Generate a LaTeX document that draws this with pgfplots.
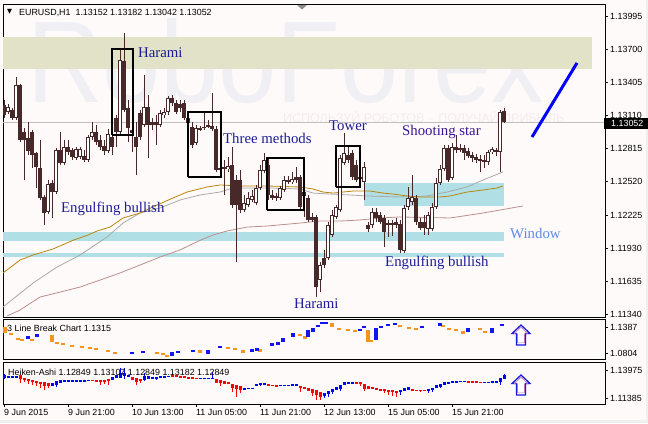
\documentclass[border=0pt]{standalone}
\usepackage{fontspec}
\usepackage{graphicx}
\usepackage{pgfplots}
\usepackage{pgfplotstable}
\pgfplotsset{compat=1.18}
\setmainfont{Liberation Serif}
\newfontfamily\ms{Liberation Sans}
\newfontfamily\dv{DejaVu Sans}
\newcommand\tf{\ms\fontsize{8.9bp}{10bp}\selectfont}
\newcommand\pf{\fontsize{14.8bp}{16bp}\selectfont}

\definecolor{bg}{HTML}{FFFAFA}
\definecolor{cndl}{HTML}{48292A}
\definecolor{khaki}{HTML}{E2E2C8}
\definecolor{pbl}{HTML}{B0E0E6}
\definecolor{gold}{HTML}{B8860B}
\definecolor{ma2}{HTML}{A9A9A9}
\definecolor{ma3}{HTML}{BC8F8F}
\definecolor{patt}{HTML}{1C1C94}
\definecolor{patt2}{HTML}{3A1592}
\definecolor{win}{HTML}{5E8BE8}
\definecolor{wm}{HTML}{EFEFF4}
\definecolor{wm2}{HTML}{F3EDEF}
\definecolor{lbo}{HTML}{F7941D}
\definecolor{lbb}{HTML}{1414F0}
\definecolor{har}{HTML}{FF0000}
\definecolor{hab}{HTML}{0000FF}
\definecolor{arr}{HTML}{1A1ADC}

% EURUSD H1 candles: index, open, high, low, close
\pgfplotstableread{
i o h l c
0 1.13204 1.13249 1.13089 1.13115
1 1.13142 1.13213 1.13124 1.13187
2 1.13160 1.13178 1.13071 1.13089
3 1.13089 1.13454 1.13071 1.13383
4 1.13383 1.13392 1.12875 1.12893
5 1.12964 1.13000 1.12536 1.12893
6 1.12910 1.13053 1.12759 1.12795
7 1.12964 1.12982 1.12643 1.12759
8 1.12777 1.12786 1.12465 1.12652
9 1.12643 1.12893 1.12358 1.12376
10 1.12385 1.12403 1.12135 1.12242
11 1.12251 1.12536 1.12233 1.12501
12 1.12509 1.12536 1.12198 1.12429
13 1.12429 1.12821 1.12411 1.12804
14 1.12804 1.12964 1.12670 1.12688
15 1.12688 1.12893 1.12670 1.12830
16 1.12830 1.12893 1.12759 1.12786
17 1.12804 1.12821 1.12714 1.12741
18 1.12732 1.12830 1.12714 1.12812
19 1.12741 1.12830 1.12723 1.12812
20 1.12750 1.12804 1.12697 1.12714
21 1.12714 1.12937 1.12697 1.12919
22 1.12919 1.13053 1.12893 1.12964
23 1.12964 1.13026 1.12848 1.12875
24 1.12893 1.12937 1.12804 1.12830
25 1.12839 1.12893 1.12759 1.12795
26 1.12795 1.12991 1.12777 1.12946
27 1.12919 1.12982 1.12759 1.12830
28 1.13089 1.13115 1.12830 1.12964
29 1.12964 1.13694 1.12946 1.13605
30 1.13597 1.13846 1.13142 1.13160
31 1.13178 1.13249 1.12875 1.13000
32 1.12982 1.13026 1.12786 1.12955
33 1.12919 1.13053 1.12581 1.12830
34 1.13133 1.13160 1.12893 1.12919
35 1.13026 1.13472 1.13008 1.13187
36 1.13187 1.13294 1.12732 1.13026
37 1.13053 1.13089 1.12982 1.13026
38 1.13053 1.13115 1.12848 1.13026
39 1.13026 1.13160 1.13008 1.13133
40 1.13115 1.13178 1.13089 1.13142
41 1.13142 1.13285 1.13115 1.13267
42 1.13267 1.13294 1.13196 1.13222
43 1.13222 1.13249 1.13124 1.13142
44 1.13213 1.13249 1.13142 1.13178
45 1.13222 1.13249 1.13071 1.13089
46 1.13089 1.13115 1.13008 1.13044
47 1.13008 1.13053 1.12821 1.12848
48 1.12866 1.13026 1.12848 1.13000
49 1.13000 1.13017 1.12973 1.12991
50 1.13000 1.13133 1.12982 1.13008
51 1.13017 1.13071 1.13000 1.13026
52 1.13017 1.13311 1.12973 1.12991
53 1.12991 1.13017 1.12608 1.12625
54 1.12643 1.12670 1.12563 1.12625
55 1.12652 1.12714 1.12403 1.12643
56 1.12634 1.12741 1.12608 1.12661
57 1.12670 1.12830 1.12287 1.12313
58 1.12536 1.12581 1.11806 1.12313
59 1.12536 1.12625 1.12242 1.12269
60 1.12269 1.12403 1.12251 1.12331
61 1.12313 1.12429 1.12296 1.12376
62 1.12358 1.12447 1.12340 1.12394
63 1.12331 1.12492 1.12313 1.12465
64 1.12465 1.12670 1.12447 1.12625
65 1.12616 1.12777 1.12599 1.12714
66 1.12670 1.12732 1.12358 1.12403
67 1.12403 1.12447 1.12358 1.12376
68 1.12394 1.12420 1.12349 1.12376
69 1.12376 1.12483 1.12358 1.12465
70 1.12447 1.12572 1.12429 1.12536
71 1.12536 1.12572 1.12501 1.12518
72 1.12518 1.12608 1.12501 1.12545
73 1.12563 1.12652 1.12509 1.12536
74 1.12563 1.12581 1.12269 1.12296
75 1.12429 1.12447 1.12207 1.12394
76 1.12376 1.12403 1.12162 1.12180
77 1.12207 1.12242 1.12162 1.12180
78 1.12207 1.12224 1.11494 1.11583
79 1.11645 1.11806 1.11538 1.11779
80 1.11841 1.11913 1.11752 1.11779
81 1.11841 1.12162 1.11823 1.12135
82 1.12046 1.12269 1.12028 1.12224
83 1.12207 1.12313 1.12189 1.12296
84 1.12269 1.12759 1.12251 1.12732
85 1.12688 1.12955 1.12670 1.12777
86 1.12759 1.12848 1.12688 1.12714
87 1.12777 1.12804 1.12536 1.12563
88 1.12670 1.12714 1.12518 1.12536
89 1.12563 1.12625 1.12518 1.12545
90 1.12518 1.12697 1.12358 1.12652
91 1.12135 1.12162 1.12073 1.12100
92 1.12135 1.12287 1.12109 1.12251
93 1.12251 1.12287 1.12162 1.12198
94 1.12224 1.12251 1.12144 1.12162
95 1.12198 1.12224 1.11939 1.12073
96 1.12153 1.12180 1.12028 1.12144
97 1.12153 1.12180 1.12037 1.12144
98 1.12162 1.12198 1.12109 1.12135
99 1.12144 1.12180 1.11886 1.11913
100 1.11904 1.12313 1.11886 1.12287
101 1.12296 1.12474 1.12269 1.12376
102 1.12340 1.12581 1.12313 1.12385
103 1.12376 1.12403 1.12135 1.12162
104 1.12162 1.12198 1.12091 1.12109
105 1.12162 1.12224 1.12046 1.12109
106 1.12100 1.12251 1.12046 1.12224
107 1.12100 1.12331 1.12082 1.12296
108 1.12296 1.12554 1.12278 1.12509
109 1.12509 1.12670 1.12492 1.12634
110 1.12634 1.12848 1.12616 1.12821
111 1.12821 1.12848 1.12518 1.12536
112 1.12554 1.12866 1.12536 1.12830
113 1.12830 1.12937 1.12777 1.12804
114 1.12821 1.12857 1.12786 1.12812
115 1.12821 1.12848 1.12714 1.12777
116 1.12795 1.12821 1.12732 1.12750
117 1.12759 1.12786 1.12697 1.12732
118 1.12741 1.12768 1.12688 1.12714
119 1.12723 1.12759 1.12608 1.12714
120 1.12714 1.12759 1.12643 1.12705
121 1.12697 1.12804 1.12670 1.12786
122 1.12786 1.12830 1.12768 1.12812
123 1.12786 1.12821 1.12750 1.12804
124 1.12786 1.13160 1.12608 1.13142
125 1.13152 1.13182 1.13042 1.13052
}\candles

% 3 line break blocks: index, top, bottom
\pgfplotstableread{
i t b
0.25 1.1387 1.1252
1.75 1.1252 1.1208
3.5 1.1140 1.1096
4.5 1.1118 1.1073
7 1.1118 1.1073
12 1.1208 1.1051
13.25 1.1051 1.1006
14.75 1.1028 1.0983
17 1.0983 1.0939
19.5 1.0961 1.0916
21.5 1.0939 1.0894
23 1.0916 1.0871
26 1.0871 1.0827
27.75 1.0827 1.0782
38.25 1.0827 1.0782
39.75 1.0804 1.0760
40.75 1.0760 1.0715
49 1.0871 1.0804
56 1.0939 1.0894
57.75 1.0916 1.0871
59.75 1.0871 1.0804
64 1.0894 1.0827
74 1.1230 1.1185
75.25 1.1185 1.1118
82 1.1477 1.1387
83.75 1.1365 1.1320
86 1.1342 1.1297
87.75 1.1320 1.1275
91 1.1320 1.1051
91.75 1.1096 1.1051
99 1.1432 1.1387
101.25 1.1387 1.1342
103 1.1365 1.1320
109.75 1.1432 1.1387
111.25 1.1365 1.1320
113 1.1342 1.1297
114.75 1.1297 1.1230
119 1.1365 1.1320
120.25 1.1297 1.1252
}\tlbo
\pgfplotstableread{
i t b
6 1.1185 1.1118
8.25 1.1230 1.1163
32 1.0827 1.0782
34.75 1.0849 1.0804
42 1.0827 1.0737
43.5 1.0849 1.0804
47.25 1.0871 1.0827
51 1.0871 1.0782
54 1.0961 1.0916
62 1.0894 1.0827
63.25 1.0916 1.0849
67 1.1028 1.0961
68.5 1.1051 1.0983
69.75 1.1140 1.1051
72.25 1.1252 1.1163
76 1.1320 1.1163
77.25 1.1365 1.1275
78.5 1.1432 1.1387
79.5 1.1499 1.1454
80.5 1.1499 1.1454
89 1.1342 1.1297
90 1.1409 1.1365
93 1.1365 1.1096
94.25 1.1409 1.1365
96 1.1454 1.1409
97.75 1.1477 1.1432
104.5 1.1409 1.1365
109 1.1477 1.1409
116 1.1365 1.1275
122 1.1365 1.1252
124.5 1.1454 1.1409
}\tlbb

% Heiken-Ashi: index, open, close, high, low
\pgfplotstableread{
i o c h l
0 1.13235 1.13513 1.13605 1.13143
1 1.13235 1.13420 1.13420 1.13235
2 1.13328 1.13420 1.13420 1.13328
3 1.13328 1.13374 1.13420 1.13328
4 1.13513 1.13143 1.13513 1.12773
5 1.13235 1.13050 1.13235 1.12865
6 1.13143 1.12958 1.13143 1.12680
7 1.13050 1.12865 1.13050 1.12588
8 1.12958 1.12773 1.12958 1.12495
9 1.12865 1.12680 1.12865 1.12310
10 1.12865 1.12495 1.12865 1.12125
11 1.12773 1.12495 1.12773 1.12310
12 1.12495 1.12773 1.12773 1.12495
13 1.12588 1.12958 1.12958 1.12403
14 1.12773 1.13050 1.13050 1.12773
15 1.12865 1.13050 1.13050 1.12865
16 1.12958 1.13050 1.13050 1.12958
17 1.12958 1.13004 1.13004 1.12958
18 1.12958 1.13004 1.13004 1.12958
19 1.12958 1.13004 1.13004 1.12958
20 1.12958 1.13050 1.13050 1.12958
21 1.13004 1.13050 1.13050 1.13004
22 1.13050 1.12985 1.13050 1.12985
23 1.13050 1.12958 1.13050 1.12958
24 1.13050 1.12958 1.13050 1.12588
25 1.13050 1.12958 1.13050 1.12680
26 1.13143 1.12958 1.13143 1.12588
27 1.13050 1.13328 1.13328 1.13050
28 1.13235 1.13513 1.13513 1.13235
29 1.13235 1.13698 1.14160 1.13235
30 1.13420 1.13698 1.14160 1.13143
31 1.13420 1.13513 1.13513 1.13420
32 1.13328 1.13050 1.13328 1.13050
33 1.13235 1.12865 1.13235 1.12588
34 1.13143 1.12958 1.13143 1.12773
35 1.13050 1.13420 1.13698 1.12958
36 1.13143 1.13420 1.13420 1.13143
37 1.13235 1.13328 1.13328 1.13235
38 1.13235 1.13328 1.13328 1.13050
39 1.13328 1.13374 1.13374 1.13328
40 1.13328 1.13374 1.13374 1.13328
41 1.13374 1.13420 1.13420 1.13374
42 1.13513 1.13328 1.13513 1.13328
43 1.13513 1.13328 1.13513 1.13328
44 1.13420 1.13328 1.13420 1.13328
45 1.13420 1.13235 1.13420 1.13235
46 1.13328 1.13235 1.13328 1.13235
47 1.13328 1.13189 1.13328 1.13189
48 1.13281 1.13189 1.13281 1.13189
49 1.13189 1.13235 1.13235 1.13189
50 1.13189 1.13235 1.13235 1.13189
51 1.13189 1.13235 1.13235 1.13189
52 1.13189 1.13235 1.13790 1.13189
53 1.13143 1.12773 1.13143 1.12773
54 1.13050 1.12773 1.13050 1.12495
55 1.12958 1.12680 1.12958 1.12680
56 1.12865 1.12680 1.12865 1.12680
57 1.12680 1.12310 1.12680 1.11940
58 1.12588 1.12218 1.12588 1.11478
59 1.12495 1.12125 1.12495 1.11848
60 1.12218 1.12310 1.12310 1.12218
61 1.12264 1.12310 1.12310 1.12264
62 1.12264 1.12310 1.12310 1.12264
63 1.12495 1.12680 1.12680 1.12495
64 1.12588 1.12773 1.12773 1.12495
65 1.12588 1.12773 1.12773 1.12588
66 1.12680 1.12541 1.12680 1.12541
67 1.12634 1.12541 1.12634 1.12541
68 1.12588 1.12495 1.12588 1.12495
69 1.12541 1.12588 1.12588 1.12541
70 1.12541 1.12588 1.12588 1.12541
71 1.12541 1.12588 1.12588 1.12541
72 1.12495 1.12680 1.12680 1.12495
73 1.12495 1.12680 1.12680 1.12495
74 1.12495 1.12310 1.12495 1.11940
75 1.12403 1.12218 1.12403 1.12218
76 1.12310 1.12033 1.12310 1.12033
77 1.12218 1.11848 1.12218 1.11570
78 1.12125 1.11663 1.12125 1.11200
79 1.11940 1.11478 1.11940 1.11200
80 1.11570 1.11848 1.11848 1.11385
81 1.11755 1.12033 1.12033 1.11478
82 1.11940 1.12218 1.12218 1.11755
83 1.12125 1.12403 1.12403 1.12125
84 1.12218 1.12588 1.12588 1.12033
85 1.12588 1.12865 1.12865 1.12588
86 1.12773 1.12865 1.12865 1.12773
87 1.12773 1.12865 1.12865 1.12773
88 1.12865 1.12680 1.12865 1.12680
89 1.12865 1.12680 1.12865 1.12495
90 1.12680 1.12218 1.12680 1.12033
91 1.12495 1.12218 1.12495 1.12218
92 1.12403 1.12218 1.12403 1.12218
93 1.12310 1.12125 1.12310 1.12125
94 1.12218 1.12079 1.12218 1.12079
95 1.12218 1.12033 1.12218 1.11848
96 1.12125 1.12033 1.12125 1.11663
97 1.12125 1.11940 1.12125 1.11570
98 1.12033 1.11848 1.12033 1.11478
99 1.11940 1.12125 1.12125 1.11663
100 1.12033 1.12310 1.12310 1.12033
101 1.12125 1.12403 1.12403 1.12125
102 1.12218 1.12079 1.12218 1.12079
103 1.12171 1.12079 1.12171 1.12079
104 1.12171 1.12079 1.12171 1.11940
105 1.12171 1.12079 1.12171 1.12079
106 1.12033 1.12218 1.12218 1.11848
107 1.12125 1.12310 1.12310 1.11940
108 1.12310 1.12588 1.12588 1.12310
109 1.12403 1.12680 1.12680 1.12310
110 1.12588 1.12865 1.12865 1.12588
111 1.12680 1.12865 1.12865 1.12680
112 1.12865 1.12958 1.12958 1.12865
113 1.12865 1.12958 1.12958 1.12865
114 1.12911 1.12958 1.12958 1.12911
115 1.12911 1.12958 1.12958 1.12911
116 1.12911 1.12865 1.12911 1.12865
117 1.12911 1.12865 1.12911 1.12865
118 1.12911 1.12865 1.12911 1.12773
119 1.12911 1.12819 1.12911 1.12819
120 1.12819 1.12865 1.12865 1.12819
121 1.12819 1.12865 1.12865 1.12819
122 1.12865 1.12958 1.12958 1.12865
123 1.12865 1.12958 1.12958 1.12865
124 1.12865 1.13235 1.13235 1.12588
125 1.13143 1.13513 1.13605 1.13143
}\tha

\pgfplotsset{
  mt/.style={scale only axis, anchor=south west, width=602bp,
    xmin=-0.25, xmax=150.25,
    axis background/.style={fill=bg},
    axis line style={line width=1bp, black},
    xtick=\empty, ytick pos=upper, yticklabel pos=upper,
    tick align=outside, major tick length=3bp,
    tick style={black, line width=0.8bp},
    tick label style={font=\tf, inner sep=0pt},
    yticklabel style={anchor=west, xshift=2bp}},
  bars/.style n args={2}{draw=none, forget plot, error bars/.cd, y dir=both,
    y explicit, error mark=none, error bar style={draw=#1, line width=#2}}
}

\begin{document}
\begin{tikzpicture}[x=1bp,y=1bp]
\fill[black!6] (0,0) rectangle (648,423);
\fill[bg] (0,3) rectangle (646,423);

% ---- main price chart
\begin{axis}[mt, at={(3bp,106bp)}, height=312bp, ymin=1.11316, ymax=1.14095,
  ytick={1.11340,1.11635,1.11930,1.12225,1.12520,1.12815,1.13110,1.13405,1.13700,1.13995},
  yticklabels={1.11340,1.11635,1.11930,1.12225,1.12520,1.12815,1.13110,1.13405,1.13700,1.13995}]
\node[anchor=base west, inner sep=0, text=wm] at (rel axis cs:0.04,0.686)
  {\scalebox{0.9}[1]{\ms\fontsize{116bp}{116bp}\selectfont RoboForex}};
\node[anchor=west, inner sep=0, text=wm2] at (rel axis cs:0.465,0.641)
  {\ms\fontsize{12.5bp}{13bp}\selectfont ИСПОЛЬЗУЙ РОБОТОВ – ПОЛУЧАЙ ПРИБЫЛЬ};
% zones
\addplot[fill=khaki, draw=none, forget plot] coordinates {(-0.25,1.13525)(147,1.13525)(147,1.13810)(-0.25,1.13810)};
\addplot[fill=pbl, draw=none, forget plot] coordinates {(-0.25,1.11993)(125,1.11993)(125,1.12073)(-0.25,1.12073)};
\addplot[fill=pbl, draw=none, forget plot] coordinates {(-0.25,1.11850)(125,1.11850)(125,1.11886)(-0.25,1.11886)};
\addplot[fill=pbl, draw=none, forget plot] coordinates {(90,1.12305)(125,1.12305)(125,1.12510)(90,1.12510)};
% moving averages
\addplot[ma3, line width=0.8bp] coordinates {(0.75,1.11324)(4,1.11378)(9,1.11494)(14,1.11538)(19,1.11583)(24,1.11645)(29,1.11708)(34,1.11779)(39,1.11850)(44,1.11913)(49,1.11999)(52.25,1.12046)(55.75,1.12082)(60.75,1.12117)(65.75,1.12126)(74,1.12153)(79,1.12171)(84,1.12171)(89,1.12180)(94,1.12198)(99,1.12207)(111.5,1.12198)(119.75,1.12242)(129.75,1.12305)};
\addplot[ma2, line width=0.8bp] coordinates {(-0.25,1.11405)(7.25,1.11618)(13.25,1.11761)(19,1.11868)(25.75,1.12028)(29.75,1.12153)(34,1.12242)(39,1.12287)(44,1.12358)(49,1.12403)(54,1.12429)(57.25,1.12465)(67.25,1.12465)(74,1.12456)(77.25,1.12420)(81.5,1.12411)(86.5,1.12403)(90.75,1.12394)(99,1.12385)(105.75,1.12394)(110.75,1.12429)(115.75,1.12474)(119.75,1.12536)(124.75,1.12608)};
\addplot[gold, line width=0.8bp] coordinates {(-0.25,1.11708)(4,1.11823)(7.25,1.11868)(9.75,1.11895)(12.25,1.11922)(17.25,1.11999)(21,1.12046)(23.25,1.12082)(26.5,1.12117)(29.75,1.12198)(34,1.12242)(38.25,1.12313)(42.25,1.12376)(45.75,1.12429)(50.75,1.12474)(54,1.12492)(59,1.12483)(65.75,1.12483)(74,1.12474)(77.25,1.12456)(79.75,1.12429)(82.25,1.12420)(84.75,1.12429)(87.25,1.12438)(91.5,1.12438)(94.75,1.12420)(97.25,1.12411)(100.75,1.12394)(104,1.12385)(109,1.12385)(111.5,1.12394)(115.75,1.12429)(119.75,1.12447)(123.25,1.12465)(124.75,1.12483)};
% current price line
\addplot[black!25, line width=0.8bp] coordinates {(-0.25,1.13052)(150.25,1.13052)};
% candles
\addplot[bars={cndl}{1bp}] table[x=i, y expr={(\thisrow{h}+\thisrow{l})/2},
  y error expr={(\thisrow{h}-\thisrow{l})/2}] {\candles};
\addplot[bars={cndl}{3.2bp}] table[x=i, y expr={(\thisrow{o}+\thisrow{c})/2},
  y error expr={max(abs(\thisrow{c}-\thisrow{o})/2,0.00003)}] {\candles};
\addplot[bars={white}{1.3bp}] table[x=i,
  y expr={\thisrow{c}>\thisrow{o} ? (\thisrow{o}+\thisrow{c})/2 : nan},
  y error expr={max((\thisrow{c}-\thisrow{o})/2-0.00009,0)}] {\candles};
% pattern boxes
\addplot[black, line width=2bp] coordinates {(27,1.12937)(32.25,1.12937)(32.25,1.13703)(27,1.13703)(27,1.12937)};
\addplot[black, line width=2bp] coordinates {(46,1.12563)(54.25,1.12563)(54.25,1.13142)(46,1.13142)(46,1.12563)};
\addplot[black, line width=2bp] coordinates {(65.75,1.12269)(75,1.12269)(75,1.12732)(65.75,1.12732)(65.75,1.12269)};
\addplot[black, line width=2bp] coordinates {(83,1.12474)(89,1.12474)(89,1.12839)(83,1.12839)(83,1.12474)};
% trend line
\addplot[blue, line width=3bp] coordinates {(132,1.12919)(143.25,1.13579)};
% labels
\node[anchor=base west, inner sep=0, text=patt, font=\pf] at (axis cs:33.5,1.13623) {Harami};
\node[anchor=base west, inner sep=0, text=patt, font=\pf] at (axis cs:54.75,1.12857) {Three methods};
\node[anchor=base west, inner sep=0, text=patt, font=\pf] at (axis cs:81.25,1.12973) {Tower};
\node[anchor=base west, inner sep=0, text=patt2, font=\pf] at (axis cs:99.5,1.12937) {Shooting star};
\node[anchor=base west, inner sep=0, text=patt, font=\pf] at (axis cs:14.25,1.12245) {Engulfing bullish};
\node[anchor=base west, inner sep=0, text=patt, font=\pf] at (axis cs:72.5,1.11396) {Harami};
\node[anchor=base west, inner sep=0, text=patt, font=\pf] at (axis cs:95.25,1.11764) {Engulfing bullish};
\node[anchor=base west, inner sep=0, text=win, font=\pf] at (axis cs:126.5,1.12011) {Window};
\end{axis}

% ---- 3 line break
\begin{axis}[mt, at={(3bp,64bp)}, height=39.5bp, ymin=1.06696, ymax=1.15552,
  ytick={1.0804,1.1387}, yticklabels={1.0804,1.1387}]
\addplot[bars={lbo}{4bp}] table[x=i, y expr={(\thisrow{t}+\thisrow{b})/2},
  y error expr={(\thisrow{t}-\thisrow{b})/2}] {\tlbo};
\addplot[bars={lbb}{4bp}] table[x=i, y expr={(\thisrow{t}+\thisrow{b})/2},
  y error expr={(\thisrow{t}-\thisrow{b})/2}] {\tlbb};
\end{axis}

% ---- Heiken-Ashi
\begin{axis}[mt, at={(3bp,19bp)}, height=42bp, ymin=1.10830, ymax=1.14715,
  ytick={1.11385,1.13975}, yticklabels={1.11385,1.13975},
  xtick={0,16,32,48,64,80,96,112}, xtick pos=lower,
  xticklabels={9 Jun 2015,9 Jun 21:00,10 Jun 13:00,11 Jun 05:00,11 Jun 21:00,12 Jun 13:00,15 Jun 05:00,15 Jun 21:00},
  xticklabel style={anchor=north west, yshift=-2bp}]
\addplot[bars={har}{1bp}] table[x=i, y expr={\thisrow{c}<\thisrow{o} ? (\thisrow{h}+\thisrow{l})/2 : nan},
  y error expr={(\thisrow{h}-\thisrow{l})/2}] {\tha};
\addplot[bars={hab}{1bp}] table[x=i, y expr={\thisrow{c}<\thisrow{o} ? nan : (\thisrow{h}+\thisrow{l})/2},
  y error expr={(\thisrow{h}-\thisrow{l})/2}] {\tha};
\addplot[bars={har}{3bp}] table[x=i, y expr={\thisrow{c}<\thisrow{o} ? (\thisrow{o}+\thisrow{c})/2 : nan},
  y error expr={max(abs(\thisrow{o}-\thisrow{c})/2,0.0004)}] {\tha};
\addplot[bars={hab}{3bp}] table[x=i, y expr={\thisrow{c}<\thisrow{o} ? nan : (\thisrow{o}+\thisrow{c})/2},
  y error expr={max(abs(\thisrow{o}-\thisrow{c})/2,0.0004)}] {\tha};
\end{axis}

% ---- overlays
\node[anchor=west, inner sep=0] at (7,411) {\dv\fontsize{6.5bp}{7bp}\selectfont ▼};
\node[anchor=west, inner sep=0] at (19,410) {\tf EURUSD,H1\ \ 1.13152 1.13182 1.13042 1.13052};
\fill[black!45] (297,418) -- (307,418) -- (302,413.5) -- cycle;
\fill[black] (604,294.5) rectangle (648,305);
\node[anchor=west, inner sep=0, text=white] at (611,299.8) {\tf 1.13052};
\node[anchor=west, inner sep=0] at (7,95) {\tf 3 Line Break Chart 1.1315};
\node[anchor=west, inner sep=0] at (8,51) {\tf Heiken-Ashi 1.12849 1.13107 1.12849 1.13182 1.12849};
\foreach \yb in {78,28} {
  \draw[arr, line width=1.3bp, fill=white, line join=miter]
    (521,\yb+20) -- (530,\yb+11.5) -- (525.5,\yb+11.5) -- (525.5,\yb) -- (516.5,\yb) -- (516.5,\yb+11.5) -- (512,\yb+11.5) -- cycle;
  \draw[violet!55, line width=0.6bp, scale around={0.78:(521,\yb+10)}]
    (521,\yb+20) -- (530,\yb+11.5) -- (525.5,\yb+11.5) -- (525.5,\yb) -- (516.5,\yb) -- (516.5,\yb+11.5) -- (512,\yb+11.5) -- cycle;
}
\pgfresetboundingbox
\path[use as bounding box] (0,0) rectangle (648,423);
\end{tikzpicture}
\end{document}
